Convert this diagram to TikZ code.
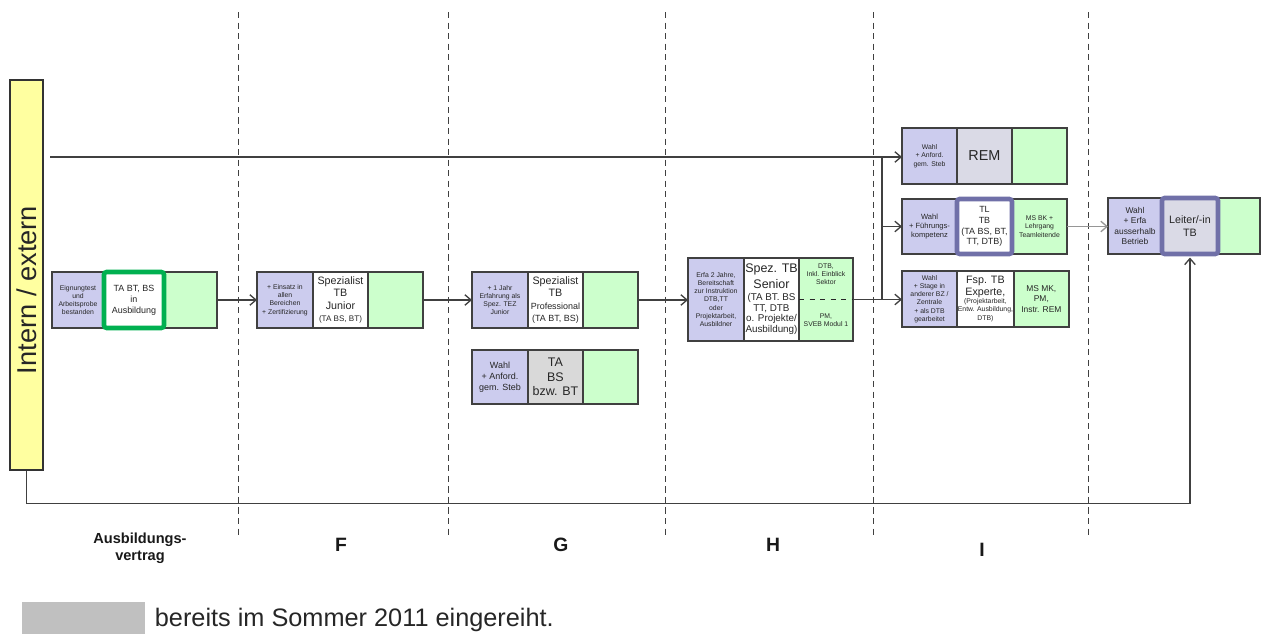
\documentclass[tikz,border=0pt]{standalone}
\usepackage{fontspec}
\setmainfont{Liberation Sans}
\usetikzlibrary{arrows.meta, positioning}
\definecolor{cLila}{RGB}{204,204,238}
\definecolor{cGruen}{RGB}{204,255,204}
\definecolor{cGrau}{RGB}{217,217,217}
\definecolor{cGrauLila}{RGB}{218,218,230}
\definecolor{cGelb}{RGB}{255,255,160}
\definecolor{cRahmen}{RGB}{112,112,168}
\definecolor{cGruenRand}{RGB}{0,176,80}
\definecolor{cLegende}{RGB}{192,192,192}
\definecolor{cLinie}{RGB}{64,64,64}
\newcommand{\fWinzig}{\fontsize{3.9}{4.7}\selectfont}
\newcommand{\fKlein}{\fontsize{5.1}{6.2}\selectfont}
\newcommand{\fMittel}{\fontsize{6.1}{7}\selectfont}
\newcommand{\fGross}{\fontsize{7.1}{8.4}\selectfont}
\tikzset{
	teil/.style  ={rectangle, draw=cLinie, line width=0.8pt, minimum width=1.1cm, minimum height=1.12cm, inner sep=0.5pt, outer sep=0pt, align=center, text=black!85},
	links/.style ={teil, fill=cLila, font=\fWinzig},
	mitte/.style ={teil, fill=white},
	rechts/.style={teil, fill=cGruen, font=\fWinzig},
	balken/.style={rectangle, draw=black!80, line width=0.9pt, fill=cGelb, minimum width=0.66cm, minimum height=7.8cm},
	pfeil/.style ={-{Straight Barb[length=3.5pt, width=6pt]}, draw=cLinie, line width=0.75pt},
	trenn/.style ={dash pattern=on 3.5pt off 2.5pt, draw=black!75, line width=0.5pt},
	rahmen/.style={line width=2.6pt, rounded corners=1.5pt},
	% labels below the phases
	phase/.style ={font=\bfseries\fontsize{11}{13}\selectfont, text=black!90},
}

\begin{document}
\begin{tikzpicture}[x=0.02cm, y=-0.02cm]
	\useasboundingbox (0,0) rectangle (1276,636);
	% phase separators
	\foreach \x in {238,448,665,873,1088}
		\draw[trenn] (\x,12) -- (\x,535);
	% intern / extern
	\node[balken] (bar) at (26.5,275) {};
	\node[rotate=90, font=\fontsize{15.5}{17}\selectfont, text=black!85] (barText) at (27,290) {Intern / extern};
	% Ausbildung
	\node[links, anchor=north west, minimum width=1.04cm] (aL) at (52,272) {Eignungtest\\und\\Arbeitsprobe\\bestanden};
	\node[mitte, right=0pt of aL, minimum width=1.2cm, font=\fKlein] (aM) {TA BT, BS\\in\\Ausbildung};
	\node[rechts, right=0pt of aM, minimum width=1.06cm] (aR) {};
	% F
	\node[links, anchor=north west, minimum width=1.12cm] (fL) at (257,272) {+ Einsatz in\\allen\\Bereichen\\+ Zertifizierung};
	\node[mitte, right=0pt of fL, font=\fMittel] (fM) {Spezialist\\TB\\Junior\\{\fontsize{4.6}{5.4}\selectfont (TA BS, BT)}};
	\node[rechts, right=0pt of fM] (fR) {};
	% G
	\node[links, anchor=north west, minimum width=1.12cm] (gL) at (472,272) {+ 1 Jahr\\Erfahrung als\\Spez. TEZ\\Junior};
	\node[mitte, right=0pt of gL, font=\fMittel] (gM) {Spezialist\\TB\\{\fKlein Professional}\\{\fKlein (TA BT, BS)}};
	\node[rechts, right=0pt of gM] (gR) {};
	\node[links, anchor=north west, minimum width=1.12cm, minimum height=1.08cm, font=\fKlein] (g2L) at (472,350) {Wahl\\+ Anford.\\gem. Steb};
	\node[mitte, right=0pt of g2L, minimum height=1.08cm, fill=cGrau, font=\fGross] (g2M) {TA\\BS\\bzw. BT};
	\node[rechts, right=0pt of g2M, minimum height=1.08cm] (g2R) {};
	% H
	\node[links, anchor=north west, minimum width=1.12cm, minimum height=1.66cm] (hL) at (688,258) {Erfa 2 Jahre,\\Bereitschaft\\zur Instruktion\\DTB,TT\\oder\\Projektarbeit,\\Ausbildner};
	\node[mitte, right=0pt of hL, minimum height=1.66cm, font=\fontsize{5.6}{6.1}\selectfont] (hM) {{\fGross Spez. TB}\\[1pt]{\fGross Senior}\\[1pt](TA BT. BS\\TT,  DTB\\o. Projekte/\\Ausbildung)};
	\node[rechts, right=0pt of hM, minimum width=1.08cm, minimum height=1.66cm] (hR) {};
	\draw[dashed, line width=0.7pt, draw=black!85] (hR.west) -- (hR.east);
	\node[font=\fWinzig, align=center, text=black!85] (hRo) at ([yshift=-0.32cm]hR.north) {DTB,\\Inkl. Einblick\\Sektor};
	\node[font=\fWinzig, align=center, text=black!85] (hRu) at ([yshift=0.42cm]hR.south) {PM,\\SVEB Modul 1};
	% I
	\node[links, anchor=north west] (remL) at (902,128) {Wahl\\+ Anford.\\gem. Steb};
	\node[mitte, right=0pt of remL, fill=cGrauLila, font=\fontsize{8.2}{9.5}\selectfont] (remM) {REM};
	\node[rechts, right=0pt of remM] (remR) {};
	\node[links, anchor=north west, minimum height=1.1cm, font=\fontsize{4.3}{5.2}\selectfont] (tlL) at (902,199) {Wahl\\+ Führungs-\\kompetenz};
	\node[mitte, right=0pt of tlL, minimum height=1.1cm, font=\fKlein] (tlM) {TL\\TB\\(TA BS, BT,\\TT, DTB)};
	\node[rechts, right=0pt of tlM, minimum height=1.1cm] (tlR) {MS BK +\\Lehrgang\\Teamleitende};
	\node[links, anchor=north west] (fspL) at (902,271) {Wahl\\+ Stage in\\anderer BZ /\\Zentrale\\+ als DTB\\gearbeitet};
	\node[mitte, right=0pt of fspL, font=\fWinzig] (fspM) {{\fMittel Fsp. TB}\\{\fMittel Experte,}\\(Projektarbeit,\\Entw. Ausbildung,\\DTB)};
	\node[rechts, right=0pt of fspM, font=\fontsize{4.8}{5.9}\selectfont] (fspR) {MS MK,\\PM,\\Instr. REM};
	% Leiter
	\node[links, anchor=north west, minimum width=1.08cm, font=\fontsize{4.8}{5.8}\selectfont] (leitL) at (1108,198) {Wahl\\+ Erfa\\ausserhalb\\Betrieb};
	\node[mitte, right=0pt of leitL, minimum width=1.12cm, fill=cGrauLila, font=\fMittel] (leitM) {Leiter/-in\\TB};
	\node[rechts, right=0pt of leitM, minimum width=0.84cm] (leitR) {};
	% connectors
	\draw[pfeil] (aR.east) -- (fL.west);
	\draw[pfeil] (fR.east) -- (gL.west);
	\draw[pfeil] (gR.east) -- (gR.east -| hL.west);
	\coordinate (oben) at (50,157);
	\draw[pfeil] (oben) -- (oben -| remL.west);
	\coordinate (knick) at ([xshift=0.58cm]hR.east);
	\draw[pfeil] (hR.east) -- (hR.east -| fspL.west);
	\draw[cLinie, line width=0.75pt] (knick) -- (knick |- oben);
	\draw[pfeil] (knick |- tlL.west) -- (tlL.west);
	\draw[pfeil, draw=cLinie!55] (tlR.east) -- (tlR.east -| leitL.west);
	\draw[pfeil] (bar.south) -- ++(0,33) -| ([yshift=-2pt]leitM.south);
	% highlighted frames
	\draw[rahmen, cGruenRand] (aM.south west) rectangle (aM.north east);
	\draw[rahmen, cRahmen] (tlM.south west) rectangle (tlM.north east);
	\draw[rahmen, cRahmen] (leitM.south west) rectangle (leitM.north east);
	% phases
	\node[font=\bfseries\fontsize{8.3}{9.6}\selectfont, align=center, text=black!90] (lA) at (140,548) {Ausbildungs-\\vertrag};
	\node[phase] (lF) at (341,545) {F};
	\node[phase] (lG) at (561,545) {G};
	\node[phase] (lH) at (773,545) {H};
	\node[phase] (lI) at (982,550) {I};
	% legend
	\node[fill=cLegende, anchor=north west, minimum width=2.46cm, minimum height=0.64cm, inner sep=0pt] (leg) at (22,602) {};
	\node[right=0.06cm of leg, font=\fontsize{14.4}{16}\selectfont, text=black!85, yshift=-1pt] (legText) {bereits im Sommer 2011 eingereiht.};
\end{tikzpicture}
\end{document}
